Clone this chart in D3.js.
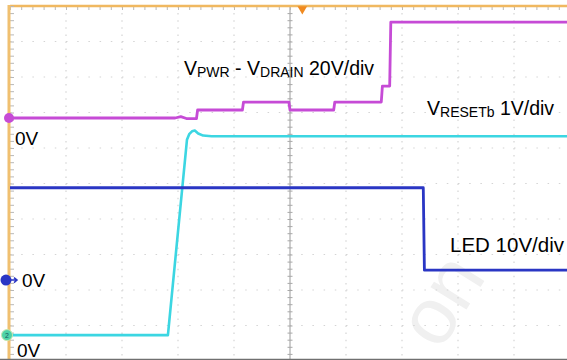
<!DOCTYPE html>
<html>
<head>
<meta charset="utf-8">
<title>Scope capture</title>
<script src="https://d3js.org/d3.v7.min.js"></script>
<style>
  body { margin: 0; background: #fff; }
  text { font-family: "Liberation Sans", Arial, sans-serif; }
</style>
</head>
<body>
<div id="chart"></div>
<script>
// time in divisions, value in volts (steps are held until the next point)
let pwrTime  = [0, 2.95, 3.05, 3.15, 3.33, 3.35, 4.15, 4.17, 4.98, 5.0, 5.78, 5.8, 6.63, 6.65, 6.78, 6.8, 10];
let pwrVolts = [0, 0, 0.8, -0.3, -0.3, 4.5, 4.5, 9, 9, 4.5, 4.5, 9, 9, 18, 18, 54, 54];

let resetTime  = [0, 2.82, 3.16, 3.2, 3.25, 3.3, 3.36, 3.45, 3.6, 10];
let resetVolts = [0, 0, 5.5, 5.66, 5.74, 5.76, 5.68, 5.62, 5.6, 5.6];

let ledTime  = [0, 7.38, 7.4, 10];
let ledVolts = [26, 26, 2.8, 2.8];

let zeroLabels = ["0V", "0V", "0V"];

let w = 567, h = 360;
let svg = d3.select("#chart").append("svg")
    .attr("width", w).attr("height", h);

// screen: 10 divisions each way
let x = d3.scaleLinear().domain([0, 10]).range([10, 570]);
let y = d3.scaleLinear().domain([0, 10]).range([6, 361]);

// faint watermark
svg.append("text")
    .attr("transform", "translate(440,352) rotate(-58)")
    .attr("font-size", 80)
    .attr("fill", "#f0f0f0")
    .text("on");

// dotted grid
let grid = svg.append("g").attr("stroke", "#d4d4d4").attr("stroke-width", 1.2);
grid.selectAll("line.v")
    .data([1, 2, 3, 4, 6, 7, 8, 9])
    .enter().append("line")
    .attr("x1", d => x(d)).attr("x2", d => x(d))
    .attr("y1", y(0)).attr("y2", h)
    .attr("stroke-dasharray", "1.5,5.6");
grid.selectAll("line.h")
    .data(d3.range(1, 10))
    .enter().append("line")
    .attr("x1", x(0)).attr("x2", w)
    .attr("y1", d => y(d)).attr("y2", d => y(d))
    .attr("stroke-dasharray", "1.5,9.7");

// centre axis with minor ticks
let minorY = d3.range(0, 10.01, 0.2);
let minorX = d3.range(0, 10.01, 0.2);
svg.append("line")
    .attr("x1", x(5)).attr("x2", x(5)).attr("y1", y(0)).attr("y2", h)
    .attr("stroke", "#9a9a9a").attr("stroke-width", 1);
svg.append("g")
    .attr("transform", "translate(" + (x(5) + 2.5) + ",0)")
    .call(d3.axisLeft(y).tickValues(minorY).tickSize(5).tickFormat(""))
    .call(g => g.select(".domain").remove())
    .call(g => g.selectAll("line").attr("stroke", "#a8a8a8"));

// top frame
svg.append("g")
    .attr("transform", "translate(0," + y(0) + ")")
    .call(d3.axisBottom(x).tickValues(minorX).tickSize(4).tickFormat(""))
    .call(g => g.select(".domain").remove())
    .call(g => g.selectAll("line").attr("stroke", "#b8b8b8"));
svg.append("line")
    .attr("x1", x(0)).attr("x2", w).attr("y1", y(0)).attr("y2", y(0))
    .attr("stroke", "#f0b860").attr("stroke-width", 2.5);

// left frame
svg.append("g")
    .attr("transform", "translate(" + x(0) + ",0)")
    .call(d3.axisRight(y).tickValues(minorY).tickSize(4).tickFormat(""))
    .call(g => g.select(".domain").remove())
    .call(g => g.selectAll("line").attr("stroke", "#b8b8b8"));
svg.append("line")
    .attr("x1", 9).attr("x2", 9).attr("y1", y(0) - 1).attr("y2", h)
    .attr("stroke", "#f0c070").attr("stroke-width", 3);

// bottom edge
svg.append("line")
    .attr("x1", 0).attr("x2", w).attr("y1", 359.5).attr("y2", 359.5)
    .attr("stroke", "#707070").attr("stroke-width", 1.5);

// trigger marker
svg.append("path")
    .attr("d", d3.symbol(d3.symbolTriangle, 40)())
    .attr("transform", "translate(" + x(5.22) + "," + (y(0) + 3) + ") rotate(180)")
    .attr("fill", "#f08a20");

// channels: zero position in divisions from top, volts per division
let channels = [
    {name: "pwr",   t: pwrTime,   v: pwrVolts,   zero: 3.155, vdiv: 20, color: "#c64bd6", width: 2.8},
    {name: "reset", t: resetTime, v: resetVolts, zero: 9.27,  vdiv: 1,  color: "#3cd6e2", width: 2.6},
    {name: "led",   t: ledTime,   v: ledVolts,   zero: 7.72,  vdiv: 10, color: "#2a36c4", width: 2.8}
];

channels.forEach(function(c) {
    let pts = c.t.map((t, i) => [t, c.zero - c.v[i] / c.vdiv]);
    let line = d3.line()
        .x(d => x(d[0]))
        .y(d => y(d[1]));
    svg.append("path")
        .datum(pts)
        .attr("d", line)
        .attr("fill", "none")
        .attr("stroke", c.color)
        .attr("stroke-width", c.width)
        .attr("stroke-linejoin", "round");
});

// ground markers
svg.append("circle").attr("cx", 9).attr("cy", y(3.155)).attr("r", 5).attr("fill", "#c64bd6");
svg.append("circle").attr("cx", 6).attr("cy", y(7.72)).attr("r", 5.5).attr("fill", "#2a36c4");
svg.append("path")
    .attr("d", "M11," + y(7.72) + "h6m-3,-2.5l3,2.5l-3,2.5")
    .attr("stroke", "#2a36c4").attr("stroke-width", 1.5).attr("fill", "none");
svg.append("circle").attr("cx", 7).attr("cy", y(9.27)).attr("r", 5.5)
    .attr("fill", "#4fd3a8").attr("stroke", "#c8e8b0").attr("stroke-width", 1);
svg.append("text").attr("x", 7).attr("y", y(9.27) + 2.5)
    .attr("text-anchor", "middle").attr("font-size", 7).attr("fill", "#1b5a60").text("2");

// 0V labels
let labelPos = [[15, 145], [22, 287], [17, 357]];
svg.selectAll("text.zero")
    .data(zeroLabels)
    .enter().append("text")
    .attr("class", "zero")
    .attr("x", (d, i) => labelPos[i][0])
    .attr("y", (d, i) => labelPos[i][1])
    .attr("font-size", 19)
    .attr("fill", "#000")
    .text(d => d);

// channel titles with subscripts
function title(px, py, size, parts) {
    let t = svg.append("text").attr("x", px).attr("y", py).attr("fill", "#000");
    parts.forEach(function(p) {
        t.append("tspan")
            .attr("font-size", p[1] ? 14 : size)
            .attr("dy", p[1] ? 1.5 : (p[2] ? -1.5 : 0))
            .text(p[0]);
    });
}
title(184, 75, 19.5, [["V"], ["PWR", true], [" - V", false, true], ["DRAIN", true], [" 20V/div", false, true]]);
title(427, 115, 19.5, [["V"], ["RESETb", true], [" 1V/div", false, true]]);
title(450, 252, 20.5, [["LED 10V/div"]]);
</script>
</body>
</html>
